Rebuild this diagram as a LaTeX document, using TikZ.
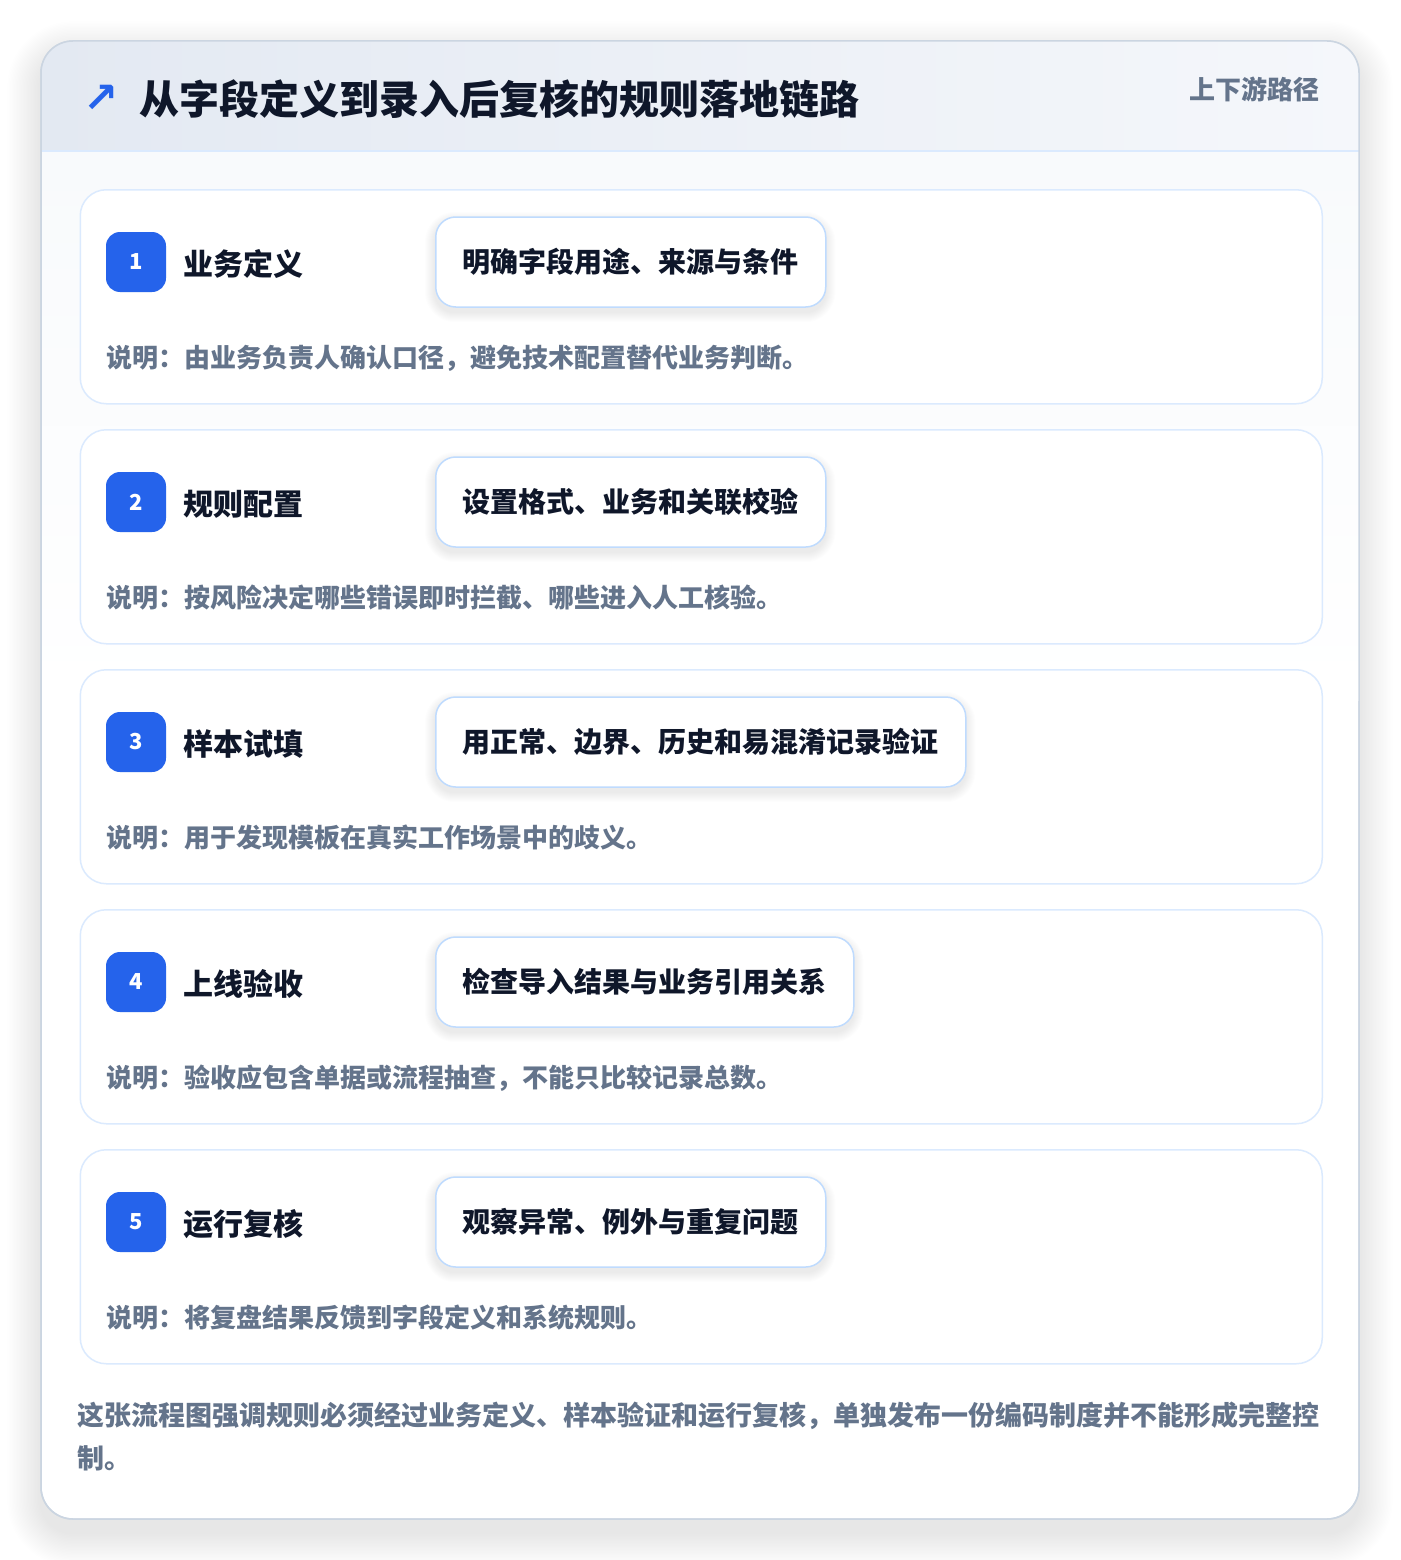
\documentclass[tikz,border=0pt]{standalone}
\usepackage{fontspec}
\setmainfont{Noto Sans CJK SC}
\newfontfamily\symfont{DejaVu Sans}
\definecolor{badgeblue}{HTML}{2563EB}
\definecolor{titlecol}{HTML}{0F172A}
\definecolor{graytext}{HTML}{64748B}
\definecolor{cardline}{HTML}{DBEAFE}
\definecolor{pillline}{HTML}{BFDBFE}
\definecolor{outerline}{HTML}{CBD5E1}
\definecolor{headleft}{HTML}{E3E9F2}
\definecolor{headright}{HTML}{F5F7FB}
\definecolor{bodytop}{HTML}{F8FAFC}
\definecolor{shadowcol}{HTML}{1E293B}
\tikzset{
 outercard/.style={draw=outerline, line width=1.5pt, fill=white, rounded corners=32pt},
 card/.style={draw=cardline, line width=1.5pt, fill=white, rounded corners=26pt,
   minimum width=1242pt, minimum height=214pt, anchor=north west, inner sep=0pt},
 badge/.style={fill=badgeblue, rounded corners=14pt, minimum size=60pt, inner sep=0pt,
   text=white, font=\fontsize{22}{26}\selectfont\bfseries},
 steptitle/.style={anchor=base west, inner sep=0pt, text=titlecol, font=\fontsize{30}{36}\selectfont\bfseries},
 pillshape/.style={rounded corners=20pt, minimum height=90pt, inner xsep=27pt, anchor=west,
   font=\fontsize{28}{32}\selectfont\bfseries},
 pill/.style={pillshape, draw=pillline, line width=1.5pt, fill=white, text=titlecol},
 note/.style={anchor=base west, inner sep=0pt, text=graytext, font=\fontsize{26}{30}\selectfont\bfseries},
 foot/.style={anchor=base west, inner sep=0pt, text=graytext, font=\fontsize{27}{32}\selectfont\bfseries},
 softshadow/.style={fill=shadowcol, fill opacity=#1},
}
\begin{document}
\begin{tikzpicture}[x=1pt,y=-1pt]
\path[use as bounding box, fill=white] (0,0) rectangle (1400,1560);
% outer card shadow
\foreach \s in {1,...,24}{
  \pgfmathsetmacro\rr{32+1.4*\s}
  \fill[softshadow=0.0032, rounded corners=\rr pt]
    (41-1.4*\s,41+14-1.4*\s) rectangle (1359+1.4*\s,1519+14+1.4*\s);
}
% outer card
\path[outercard] (41,41) rectangle (1359,1519);
\begin{scope}
\clip[rounded corners=32pt] (41,41) rectangle (1359,1519);
\shade[top color=bodytop, bottom color=white] (41,151) rectangle (1359,700);
\shade[left color=headleft, right color=headright] (41,41) rectangle (1359,151);
\end{scope}
\draw[cardline, line width=1.5pt] (41,151) -- (1359,151);
\path[draw=outerline, line width=1.5pt, rounded corners=32pt] (41,41) rectangle (1359,1519);
% header
\node[text=badgeblue, inner sep=0pt, font=\symfont\bfseries\fontsize{42}{46}\selectfont] (arrow) at (101.5,99) {↗};
\node[anchor=base west, inner sep=0pt, text=titlecol, font=\fontsize{40}{48}\selectfont\bfseries] (title) at (139,114) {从字段定义到录入后复核的规则落地链路};
\node[anchor=base east, inner sep=0pt, text=graytext, font=\fontsize{26}{30}\selectfont\bfseries] (tag) at (1320,100) {上下游路径};
% steps
\foreach \k/\num/\ttl/\pilltxt/\notetxt in {
 0/1/业务定义/明确字段用途、来源与条件/说明：由业务负责人确认口径，避免技术配置替代业务判断。,
 1/2/规则配置/设置格式、业务和关联校验/说明：按风险决定哪些错误即时拦截、哪些进入人工核验。,
 2/3/样本试填/用正常、边界、历史和易混淆记录验证/说明：用于发现模板在真实工作场景中的歧义。,
 3/4/上线验收/检查导入结果与业务引用关系/说明：验收应包含单据或流程抽查，不能只比较记录总数。,
 4/5/运行复核/观察异常、例外与重复问题/说明：将复盘结果反馈到字段定义和系统规则。}
{
 \pgfmathsetmacro\ctop{189+240*\k}
 \pgfmathsetmacro\cmid{262+240*\k}
 \pgfmathsetmacro\tbase{275.5+240*\k}
 \pgfmathsetmacro\nbase{367+240*\k}
 \node[card] (card\num) at (79.5,\ctop) {};
 \node[badge] (badge\num) at (136,\cmid) {\num};
 \node[steptitle] (title\num) at (183,\tbase) {\ttl};
 \path node[pillshape, text opacity=0] (pillbox\num) at (435,\cmid) {\pilltxt};
 \foreach \s in {1,...,10}{
   \pgfmathsetmacro\rr{20+\s}
   \fill[softshadow=0.006, rounded corners=\rr pt]
     ([xshift=-\s pt, yshift=-5pt-\s pt]pillbox\num.south west) rectangle
     ([xshift=\s pt, yshift=-5pt+\s pt]pillbox\num.north east);
 }
 \node[pill] (pill\num) at (435,\cmid) {\pilltxt};
 \node[note] (note\num) at (106,\nbase) {\notetxt};
}
% footer
\node[foot] (foot1) at (77,1425) {这张流程图强调规则必须经过业务定义、样本验证和运行复核，单独发布一份编码制度并不能形成完整控};
\node[foot] (foot2) at (77,1468) {制。};
\end{tikzpicture}
\end{document}
